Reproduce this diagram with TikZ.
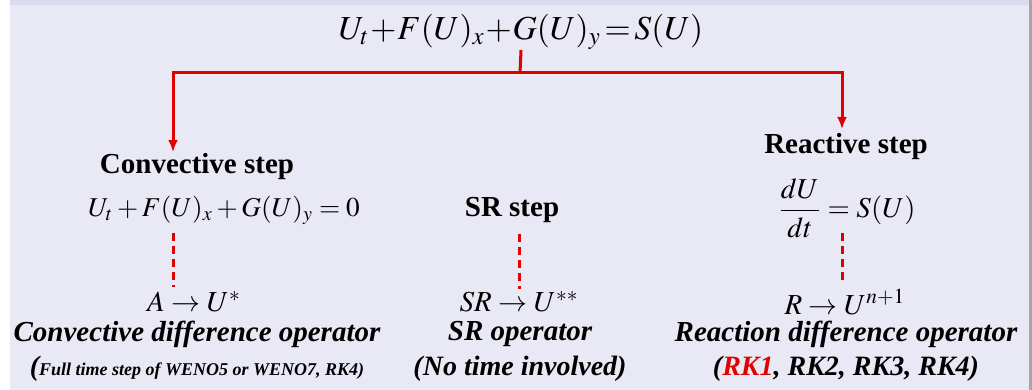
\documentclass[tikz,border=0pt]{standalone}
\usepackage{mathptmx}
\usepackage{fontspec}
\setmainfont{Liberation Serif}
\usetikzlibrary{arrows.meta}
\definecolor{panel}{HTML}{E9E9F6}
\definecolor{panelrim}{HTML}{DCDCF0}
\definecolor{splitred}{HTML}{E00000}
\tikzset{
  redline/.style={draw=splitred,line width=1.5pt},
  dashline/.style={draw=splitred,line width=1.5pt,dash pattern=on 4pt off 2.5pt},
  title/.style={inner sep=0pt,font=\fontsize{14.5}{16}\selectfont\bfseries},
  eqn/.style={inner sep=0pt,font=\fontsize{13.6}{16}\selectfont},
  result/.style={inner sep=0pt,font=\fontsize{14.5}{16}\selectfont},
  opname/.style={inner sep=0pt,font=\fontsize{14.5}{16}\selectfont\bfseries\itshape},
  note/.style={inner sep=0pt,font=\fontsize{14}{16}\selectfont\bfseries\itshape}
}
\begin{document}
\begin{tikzpicture}[x=0.5pt,y=-0.5pt,line cap=butt,>=latex]
  \useasboundingbox (0,0) rectangle (1032,390);
  % panel
  \fill[panel] (10,0) rectangle (1029,390);
  \fill[panelrim] (10,0) rectangle (1029,5);
  \fill[gray!70] (1029,0) rectangle (1032,390);
  % full equation
  \node[inner sep=0pt,font=\fontsize{16.8}{19}\selectfont] (pde) at (521,32) {$U_t\!+\!F(U)_x\!+\!G(U)_y\!=\!S(U)$};
  \coordinate (split) at (520,73);
  \coordinate (convin) at (173,152);
  \coordinate (reactin) at (842,129);
  % convective column
  \node[title] (conv) at (197,167) {Convective step};
  \node[eqn] (conveq) at (224,210) {$U_t+F(U)_x+G(U)_y=0$};
  \node[result] (convres) at (194,302) {$A\rightarrow U^{*}$};
  \node[opname] (convop) at (197,334) {Convective difference operator};
  \node[note] (convnote) at (197,369) {({\fontsize{9}{11}\selectfont Full time step of WENO5 or WENO7, RK4)}};
  % SR column
  \node[title] (sr) at (512,210) {SR step};
  \node[result] (srres) at (519,302) {$SR\rightarrow U^{**}$};
  \node[opname] (srop) at (520,334) {SR operator};
  \node[note] (srnote) at (520,369) {(No time involved)};
  % reactive column
  \node[title] (react) at (846,147) {Reactive step};
  \node[eqn,font=\fontsize{14.4}{16}\selectfont] (reacteq) at (847,208) {$\displaystyle\frac{dU}{dt}=S(U)$};
  \node[result] (reactres) at (845,302) {$R\rightarrow U^{n+1}$};
  \node[opname] (reactop) at (846,334) {Reaction difference operator};
  \node[note] (reactnote) at (846,369) {(\textcolor{splitred}{RK1}, RK2, RK3, RK4)};
  % splitting arrows
  \draw[redline] (pde.south) -- (split);
  \draw[redline,-{Latex[length=6pt,width=5pt]}] (split) -| (convin);
  \draw[redline,-{Latex[length=6pt,width=5pt]}] (split) -| (reactin);
  % dashed links
  \draw[dashline,shorten <=4pt,shorten >=2pt] (conveq.south -| convin) -- (convres.north -| convin);
  \draw[dashline,shorten <=5.5pt,shorten >=1pt] (sr.south -| srres.north) -- (srres.north);
  \draw[dashline,shorten <=-2.5pt,shorten >=3pt] (reacteq.south -| reactin) -- (reactres.north -| reactin);
\end{tikzpicture}
\end{document}
